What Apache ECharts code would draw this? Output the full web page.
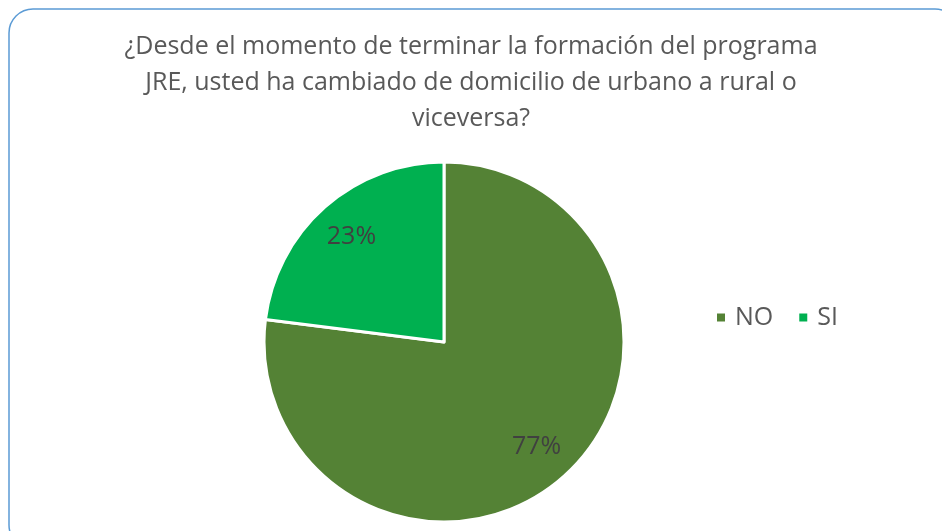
<!DOCTYPE html>
<html>
<head>
<meta charset="utf-8">
<script src="https://cdn.jsdelivr.net/npm/echarts@6/dist/echarts.min.js"></script>
<style>
  html, body { margin: 0; padding: 0; background: #fff; }
  #chart { width: 942px; height: 531px; }
</style>
</head>
<body>
<div id="chart"></div>
<script>
// categories and shares (percent)
var categories = ['NO', 'SI'];
var values = [77, 23];
var colors = ['#548235', '#00B050'];
var titleText = '¿Desde el momento de terminar la formación del programa\nJRE, usted ha cambiado de domicilio de urbano a rural o\nviceversa?';

var font = '"Open Sans", "Noto Sans", sans-serif';

var pieData = categories.map(function (name, i) {
    return { name: name, value: values[i], itemStyle: { color: colors[i] } };
});

var chart = echarts.init(document.getElementById('chart'));

var option = {
    backgroundColor: '#ffffff',
    animation: false,
    // rounded frame of the chart area
    graphic: [{
        type: 'rect',
        shape: { x: 9, y: 9, width: 950, height: 540, r: 24 },
        style: { fill: 'none', stroke: '#5B9BD5', lineWidth: 1.5 },
        silent: true
    }],
    title: {
        text: titleText,
        left: 'center',
        top: 24,
        textStyle: {
            fontFamily: font,
            fontSize: 25,
            fontWeight: 'normal',
            color: '#595959',
            lineHeight: 36
        }
    },
    legend: {
        data: categories,
        left: 710,
        top: 300,
        icon: 'rect',
        itemWidth: 10,
        itemHeight: 10,
        itemGap: 24,
        textStyle: { fontFamily: font, fontSize: 25, color: '#595959', padding: [0, 0, 0, 4] },
        selectedMode: false
    },
    series: [{
        name: 'pie',
        type: 'pie',
        center: [444, 342],
        radius: 180,
        startAngle: 90,
        clockwise: true,
        label: { show: false },
        labelLine: { show: false },
        itemStyle: { borderColor: '#ffffff', borderWidth: 3 },
        emphasis: { disabled: true },
        data: pieData
    }, {
        // transparent ring just to place the percent labels
        name: 'labels',
        type: 'pie',
        center: [444, 342],
        radius: [94, 180],
        startAngle: 90,
        clockwise: true,
        silent: true,
        itemStyle: { color: 'transparent' },
        label: {
            show: true,
            position: 'inside',
            formatter: '{c}%',
            fontFamily: font,
            fontSize: 25,
            color: '#404040'
        },
        labelLine: { show: false },
        emphasis: { disabled: true },
        data: pieData.map(function (d) {
            return { name: d.name, value: d.value, itemStyle: { color: 'transparent' } };
        })
    }]
};

chart.setOption(option);
</script>
</body>
</html>
